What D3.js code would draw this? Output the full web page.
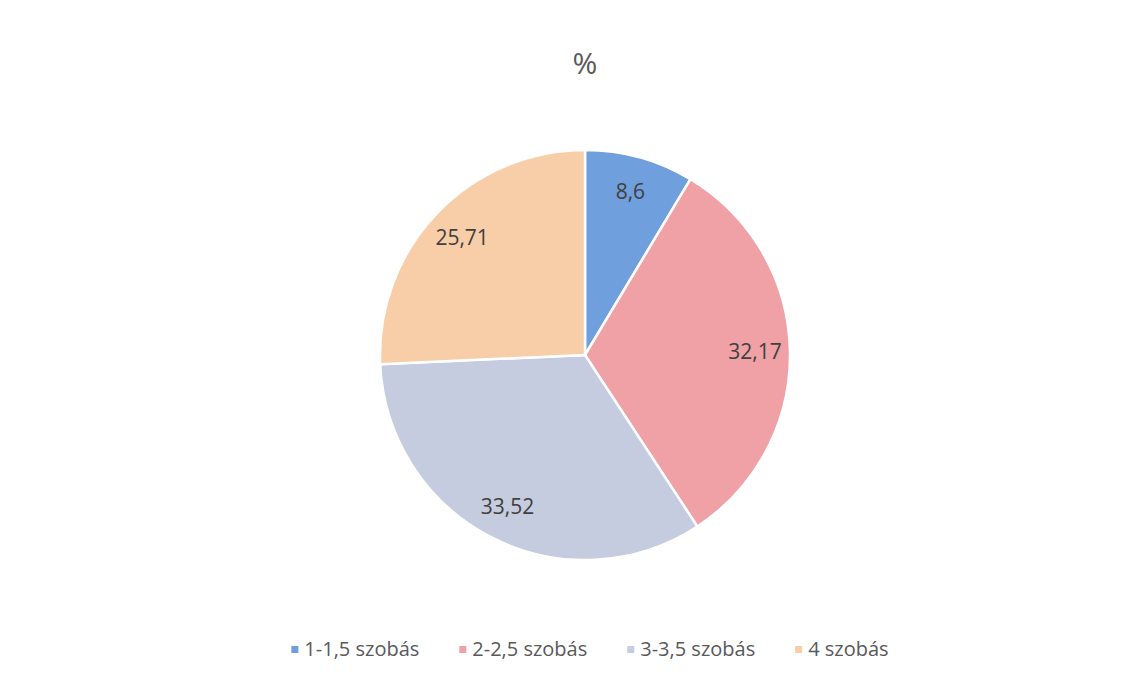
<!DOCTYPE html>
<html>
<head>
<meta charset="utf-8">
<script src="https://cdn.jsdelivr.net/npm/d3@7"></script>
<style>
  body { margin: 0; background: #fff; }
  text { font-family: "Open Sans", "Noto Sans", sans-serif; }
</style>
</head>
<body>
<svg></svg>
<script>
var width = 1147;
var height = 678;
var cx = 585, cy = 355, radius = 205;

var categories = ['1-1,5 szobás', '2-2,5 szobás', '3-3,5 szobás', '4 szobás'];
var values = [8.6, 32.17, 33.52, 25.71];
var labels = ['8,6', '32,17', '33,52', '25,71'];
var colors = ['#6f9fdc', '#efa1a6', '#c6ccdf', '#f8cea8'];

var svg = d3.select('svg')
    .attr('width', width)
    .attr('height', height);

svg.append('text')
    .attr('x', cx)
    .attr('y', 74)
    .attr('text-anchor', 'middle')
    .attr('fill', '#595959')
    .style('font-size', '30px')
    .text('%');

var pie = d3.pie().sort(null).value(d => d);
var arcs = pie(values);
var arc = d3.arc().innerRadius(0).outerRadius(radius);
var labelArc = d3.arc().innerRadius(170).outerRadius(170);

var g = svg.append('g').attr('transform', `translate(${cx},${cy})`);

g.selectAll('path')
    .data(arcs)
    .enter()
    .append('path')
    .attr('d', arc)
    .attr('fill', (d, i) => colors[i])
    .attr('stroke', '#fff')
    .attr('stroke-width', 2.5);

g.selectAll('text.lbl')
    .data(arcs)
    .enter()
    .append('text')
    .attr('class', 'lbl')
    .attr('transform', d => `translate(${labelArc.centroid(d)})`)
    .attr('text-anchor', 'middle')
    .attr('dy', '0.35em')
    .attr('fill', '#404040')
    .style('font-size', '21px')
    .text((d, i) => labels[i]);

// legend, centred under the pie
var legend = svg.append('g');
var items = legend.selectAll('g')
    .data(categories)
    .enter()
    .append('g');

items.append('rect')
    .attr('width', 7)
    .attr('height', 7)
    .attr('y', -10)
    .attr('fill', (d, i) => colors[i]);

items.append('text')
    .attr('x', 13)
    .attr('fill', '#595959')
    .style('font-size', '20px')
    .text(d => d);

var xpos = 0;
items.each(function () {
    var w = d3.select(this).select('text').node().getComputedTextLength();
    d3.select(this).attr('transform', `translate(${xpos},0)`);
    xpos += 13 + w + 40;
});
var total = xpos - 40;
legend.attr('transform', `translate(${590 - total / 2},656)`);
</script>
</body>
</html>
